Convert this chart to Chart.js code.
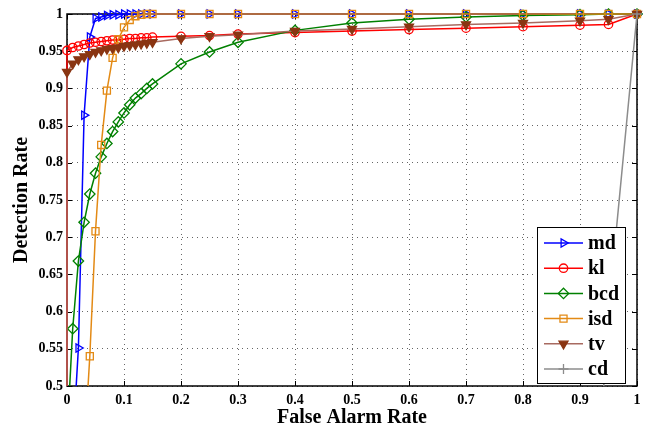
<!DOCTYPE html>
<html><head><meta charset="utf-8">
<script src="https://cdn.jsdelivr.net/npm/chart.js@4/dist/chart.umd.min.js"></script>
<style>html,body{margin:0;padding:0;background:#fff;overflow:hidden}</style>
</head><body>
<canvas id="c" width="647" height="434"></canvas>
<script>
// ---- data ----
const falseAlarmRate = [0, 0, 0.01, 0.02, 0.03, 0.04, 0.05, 0.06, 0.07, 0.08, 0.09, 0.10, 0.11, 0.12, 0.13, 0.14, 0.15, 0.2, 0.25, 0.3, 0.4, 0.5, 0.6, 0.7, 0.8, 0.9, 0.95, 1];
const md  = [0, 0, 0.42, 0.551, 0.864, 0.969, 0.994, 0.996, 0.998, 0.999, 0.999, 1, 1, 1, 1, 1, 1, 1, 1, 1, 1, 1, 1, 1, 1, 1, 1, 1];
const kl  = [0, 0.951, 0.955, 0.957, 0.959, 0.961, 0.962, 0.963, 0.964, 0.965, 0.965, 0.966, 0.967, 0.967, 0.968, 0.968, 0.969, 0.970, 0.971, 0.973, 0.975, 0.977, 0.979, 0.981, 0.983, 0.985, 0.986, 1];
const bcd = [0, 0.43, 0.577, 0.668, 0.720, 0.758, 0.786, 0.808, 0.826, 0.842, 0.855, 0.867, 0.878, 0.887, 0.893, 0.900, 0.906, 0.933, 0.949, 0.962, 0.978, 0.988, 0.993, 0.996, 0.998, 0.999, 1, 1];
const isd = [0, 0, 0.10, 0.25, 0.41, 0.54, 0.708, 0.824, 0.897, 0.941, 0.966, 0.982, 0.992, 0.997, 0.999, 1, 1, 1, 1, 1, 1, 1, 1, 1, 1, 1, 1, 1];
const tv  = [0, 0.922, 0.933, 0.939, 0.943, 0.946, 0.949, 0.951, 0.953, 0.954, 0.955, 0.957, 0.958, 0.959, 0.960, 0.961, 0.962, 0.967, 0.970, 0.972, 0.977, 0.980, 0.983, 0.986, 0.988, 0.991, 0.993, 1];
const cd  = [0, 0, 0, 0, 0, 0, 0, 0, 0, 0, 0, 0, 0, 0, 0, 0, 0, 0, 0, 0, 0, 0, 0, 0, 0, 0, 0.6, 1];
const seriesNames = ['md', 'kl', 'bcd', 'isd', 'tv', 'cd'];
const xTickLabels = ['0', '0.1', '0.2', '0.3', '0.4', '0.5', '0.6', '0.7', '0.8', '0.9', '1'];
const yTickLabels = ['0.5', '0.55', '0.6', '0.65', '0.7', '0.75', '0.8', '0.85', '0.9', '0.95', '1'];

const SERIF = '"Liberation Serif", "Times New Roman", serif';
const styles = [
  {line: '#0000ff', mk: '#0000ff', fill: 'rgba(0,0,0,0)', ps: 'triangle', rot: 90, r: 4.8},
  {line: '#ff0000', mk: '#ff0000', fill: 'rgba(0,0,0,0)', ps: 'circle', rot: 0, r: 4.2},
  {line: '#008000', mk: '#008000', fill: 'rgba(0,0,0,0)', ps: 'rectRot', rot: 0, r: 5.2},
  {line: '#e38a15', mk: '#e38a15', fill: 'rgba(0,0,0,0)', ps: 'rect', rot: 0, r: 5},
  {line: '#a86a60', mk: '#8a3512', fill: '#8a3512', ps: 'triangle', rot: 180, r: 5.2},
  {line: '#8c8c8c', mk: '#8c8c8c', fill: 'rgba(0,0,0,0)', ps: 'cross', rot: 0, r: 5}
];
const allSeries = [md, kl, bcd, isd, tv, cd];

const datasets = allSeries.map((vals, i) => ({
  label: seriesNames[i],
  data: vals.map((v, j) => ({x: falseAlarmRate[j], y: v})),
  borderColor: styles[i].line,
  backgroundColor: styles[i].fill,
  borderWidth: 1.5,
  pointStyle: styles[i].ps,
  pointRotation: styles[i].rot,
  pointRadius: styles[i].r,
  pointBorderColor: styles[i].mk,
  pointBackgroundColor: styles[i].fill,
  pointBorderWidth: 1.3,
  tension: 0,
  fill: false,
  order: 10 - i,
  clip: {left: 8, top: 8, right: 8, bottom: 0}
}));

const framePlugin = {
  id: 'frame',
  beforeDatasetsDraw(chart) {
    const {ctx, chartArea: a, scales: {x, y}} = chart;
    ctx.save();
    ctx.strokeStyle = '#000';
    ctx.lineWidth = 1;
    ctx.beginPath();
    x.ticks.forEach(t => {
      const px = Math.round(x.getPixelForValue(t.value)) + 0.5;
      ctx.moveTo(px, a.bottom); ctx.lineTo(px, a.bottom - 5);
      ctx.moveTo(px, a.top); ctx.lineTo(px, a.top + 5);
    });
    y.ticks.forEach(t => {
      const py = Math.round(y.getPixelForValue(t.value)) + 0.5;
      ctx.moveTo(a.left, py); ctx.lineTo(a.left + 5, py);
      ctx.moveTo(a.right, py); ctx.lineTo(a.right - 5, py);
    });
    ctx.stroke();
    ctx.lineWidth = 1.5;
    ctx.strokeRect(a.left, a.top, a.right - a.left, a.bottom - a.top);
    ctx.restore();
  }
};

const legendPlugin = {
  id: 'boxLegend',
  afterDraw(chart) {
    const ctx = chart.ctx;
    const bx = 537, by = 227, bw = 88, bh = 156;
    ctx.save();
    ctx.fillStyle = '#fff';
    ctx.fillRect(bx, by, bw, bh);
    ctx.strokeStyle = '#000';
    ctx.lineWidth = 1;
    ctx.strokeRect(bx + 0.5, by + 0.5, bw, bh);
    ctx.font = 'bold 20px ' + SERIF;
    ctx.textBaseline = 'middle';
    ctx.textAlign = 'left';
    chart.data.datasets.forEach((ds, i) => {
      const yy = by + 16 + i * 25.2;
      ctx.strokeStyle = ds.borderColor;
      ctx.lineWidth = 1.5;
      ctx.beginPath();
      ctx.moveTo(544, yy); ctx.lineTo(583, yy);
      ctx.stroke();
      ctx.strokeStyle = ds.pointBorderColor;
      ctx.fillStyle = ds.pointBackgroundColor;
      ctx.lineWidth = 1.3;
      Chart.helpers.drawPoint(ctx, {pointStyle: ds.pointStyle, rotation: ds.pointRotation, radius: ds.pointRadius, borderWidth: 1.3}, 563.5, yy);
      ctx.fillStyle = '#000';
      ctx.fillText(ds.label, 588, yy + 1);
    });
    ctx.restore();
  }
};

new Chart(document.getElementById('c'), {
  type: 'line',
  data: {datasets},
  options: {
    responsive: false,
    animation: false,
    devicePixelRatio: 1,
    layout: {padding: {top: 14, right: 10, left: 0, bottom: 0}},
    plugins: {legend: {display: false}, tooltip: {enabled: false}},
    scales: {
      x: {
        type: 'linear', min: 0, max: 1,
        afterFit: s => { s.height = 48; },
        ticks: {stepSize: 0.1, autoSkip: false, maxRotation: 0, padding: 6, color: '#000',
                font: {family: SERIF, size: 14, weight: 'bold'},
                callback: (v, i) => xTickLabels[i]},
        grid: {color: 'rgba(0,0,0,0.6)', lineWidth: 1, drawTicks: false},
        border: {display: false, dash: [1, 4]},
        title: {display: true, text: 'False Alarm Rate', color: '#000',
                font: {family: SERIF, size: 20, weight: 'bold'}, padding: {top: 0, bottom: 4}}
      },
      y: {
        type: 'linear', min: 0.5, max: 1,
        afterFit: s => { s.width = 67; },
        ticks: {stepSize: 0.05, autoSkip: false, padding: 4, color: '#000',
                font: {family: SERIF, size: 14, weight: 'bold'},
                callback: (v, i) => yTickLabels[i]},
        grid: {color: 'rgba(0,0,0,0.6)', lineWidth: 1, drawTicks: false},
        border: {display: false, dash: [1, 4]},
        title: {display: true, text: 'Detection Rate', color: '#000',
                font: {family: SERIF, size: 20, weight: 'bold'}, padding: {top: 10, bottom: 0}}
      }
    }
  },
  plugins: [framePlugin, legendPlugin]
});
</script>
</body></html>
